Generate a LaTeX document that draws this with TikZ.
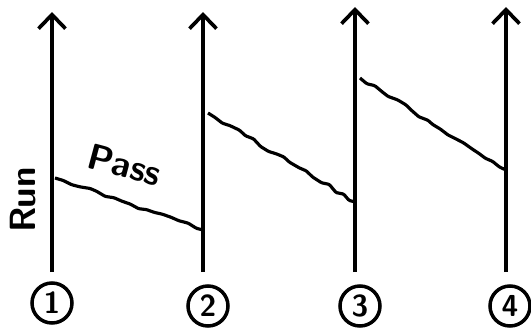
\documentclass[tikz,border=0pt]{standalone}
\usepackage{tikz}
\usetikzlibrary{positioning,arrows.meta,decorations.pathmorphing}
\tikzset{
  axisline/.style={line width=2.1pt, -{Straight Barb[length=2.8mm,width=5.4mm,line width=2.1pt]}},
  runline/.style={line width=1.8pt, decorate, decoration={random steps, segment length=5pt, amplitude=1pt}, rounded corners=0.6pt},
  station/.style={circle, draw, line width=2pt, minimum size=0.8cm, inner sep=0pt, font=\sffamily\bfseries\LARGE},
  handtext/.style={font=\sffamily\bfseries\huge}
}

\begin{document}
\begin{tikzpicture}
        \useasboundingbox (0,0) rectangle (10.62,6.54);
        \pgfmathsetseed{7}
        \node[station] (s1) at (1.04,0.48) {1};
        \node[station] (s2) at (4.16,0.42) {2};
        \node[station] (s3) at (7.20,0.42) {3};
        \node[station] (s4) at (10.20,0.42) {4};
        \coordinate (b1) at (1.04,1.10);
        \coordinate (t1) at (1.04,6.30);
        \coordinate (b2) at (4.06,1.10);
        \coordinate (t2) at (4.06,6.30);
        \coordinate (b3) at (7.10,1.10);
        \coordinate (t3) at (7.10,6.40);
        \coordinate (b4) at (10.12,1.10);
        \coordinate (t4) at (10.12,6.40);
        \draw[axisline] (b1) -- (t1);
        \draw[axisline] (b2) -- (t2);
        \draw[axisline] (b3) -- (t3);
        \draw[axisline] (b4) -- (t4);
        \coordinate (p1) at (1.10,2.98);
        \coordinate (q1) at (4.06,1.94);
        \coordinate (p2) at (4.16,4.28);
        \coordinate (q2) at (7.10,2.50);
        \coordinate (p3) at (7.20,4.98);
        \coordinate (q3) at (10.12,3.14);
        \draw[runline] (p1) -- (q1);
        \draw[runline] (p2) -- (q2);
        \draw[runline] (p3) -- (q3);
        \node[handtext, rotate=90] (run) at (0.46,2.54) {Run};
        \node[handtext, rotate=-15] (pass) at (2.5,3.24) {Pass};
      \end{tikzpicture}
\end{document}
